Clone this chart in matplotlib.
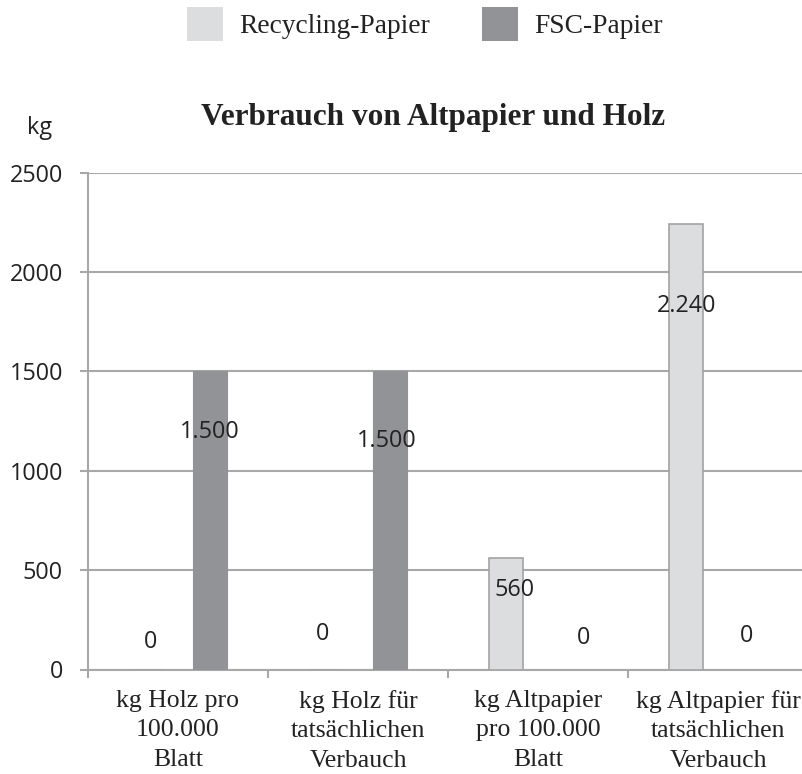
import matplotlib.pyplot as plt
from matplotlib.patches import Patch
import numpy as np

categories = [
    "kg Holz pro\n100.000\nBlatt",
    "kg Holz für\ntatsächlichen\nVerbauch",
    "kg Altpapier\npro 100.000\nBlatt",
    "kg Altpapier für\ntatsächlichen\nVerbauch",
]
recycling = [0, 0, 560, 2240]
fsc = [1500, 1500, 0, 0]
recycling_labels = ["0", "0", "560", "2.240"]
fsc_labels = ["1.500", "1.500", "0", "0"]

# label nudges in pixels (dx, dy) relative to bar top centre
REC_OFFS = [(5, 27), (-3, 36), (8, -32), (1, -82)]
FSC_OFFS = [(0, -61), (-3, -70), (14, 31), (-3, 34)]

SANS = "Open Sans"
SERIF = "Liberation Serif"
C_REC = "#DCDDDF"
C_REC_EDGE = "#A3A3A5"
C_FSC = "#929396"
C_GRID = "#A8A8A8"

fig = plt.figure(figsize=(8.02, 7.74), dpi=100)
ax = fig.add_axes([88 / 802, 104.5 / 774, 720 / 802, 497 / 774])

x = np.arange(len(categories))
off = 32 / 180
w = 34 / 180
ax.bar(x - off, recycling, w, color=C_REC, edgecolor=C_REC_EDGE, linewidth=1.2, zorder=3)
ax.bar(x + off, fsc, w, color=C_FSC, edgecolor=C_FSC, linewidth=0.8, zorder=3)

for xi, val, lab, (dx, dy) in zip(x - off, recycling, recycling_labels, REC_OFFS):
    ax.annotate(lab, (xi, val), xytext=(dx, dy), textcoords="offset pixels",
                ha="center", va="center", fontsize=16.8, family=SANS, color="#222222", zorder=4)
for xi, val, lab, (dx, dy) in zip(x + off, fsc, fsc_labels, FSC_OFFS):
    ax.annotate(lab, (xi, val), xytext=(dx, dy), textcoords="offset pixels",
                ha="center", va="center", fontsize=16.8, family=SANS, color="#222222", zorder=4)

ax.set_xlim(-0.5, 3.5)
ax.set_ylim(0, 2500)
ax.set_yticks(range(0, 2501, 500))
ax.yaxis.grid(True, color=C_GRID, linewidth=1.5, zorder=0)
ax.set_axisbelow(True)
for s in ("top", "right"):
    ax.spines[s].set_visible(False)
for s in ("left", "bottom"):
    ax.spines[s].set_color(C_GRID)
    ax.spines[s].set_linewidth(1.5)

ax.set_xticks(x)
ax.set_xticklabels(categories, family=SERIF, fontsize=18.5, color="#222222", linespacing=1.42)
ax.set_xticks(np.arange(-0.5, 4, 1), minor=True)
ax.tick_params(axis="x", which="major", length=0, pad=15)
ax.tick_params(axis="x", which="minor", length=6, width=1.5, color=C_GRID)
ax.tick_params(axis="y", length=6, width=1.5, color=C_GRID, pad=12,
               labelsize=16.8, labelcolor="#222222")
for t in ax.get_yticklabels():
    t.set_family(SANS)

fig.text(40 / 802, 1 - 128 / 774, "kg", family=SANS, fontsize=16.8,
         ha="center", va="center", color="#222222")
fig.text(433 / 802, 1 - 118 / 774, "Verbrauch von Altpapier und Holz", family=SERIF,
         fontsize=22.5, fontweight="bold", ha="center", va="center", color="#222222")

handles = [Patch(facecolor=C_REC, edgecolor="none"), Patch(facecolor=C_FSC, edgecolor="none")]
fig.legend(handles, ["Recycling-Papier", "FSC-Papier"], loc="center",
           bbox_to_anchor=(425 / 802, 1 - 24 / 774), ncol=2, frameon=False,
           prop={"family": SERIF, "size": 19.8}, handlelength=1.3, handleheight=1.55,
           handletextpad=0.6, columnspacing=1.9, labelcolor="#222222")

fig.savefig("out.png", dpi=100)
